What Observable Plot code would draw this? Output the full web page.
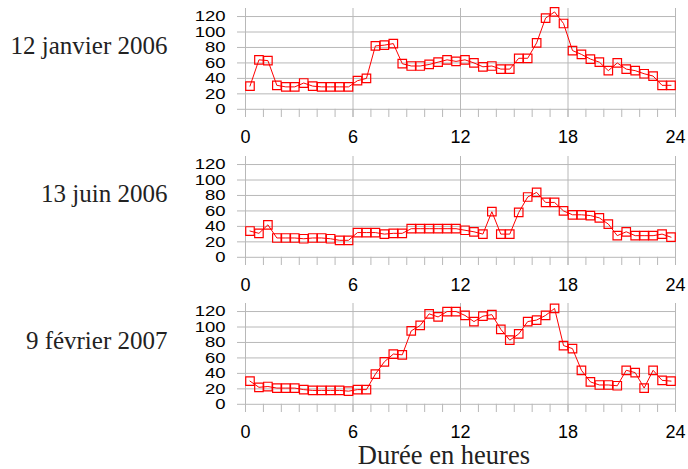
<!DOCTYPE html>
<html>
<head>
<meta charset="utf-8">
<script src="https://cdn.jsdelivr.net/npm/d3@7"></script>
<script src="https://cdn.jsdelivr.net/npm/@observablehq/plot@0.6"></script>
<style>
  html, body { margin: 0; padding: 0; background: #fff; }
  #chart svg { display: block; }
</style>
</head>
<body>
<div id="chart"></div>
<script>
// Half-hour sample times (hours)
const hours = [0.25,0.75,1.25,1.75,2.25,2.75,3.25,3.75,4.25,4.75,5.25,5.75,
  6.25,6.75,7.25,7.75,8.25,8.75,9.25,9.75,10.25,10.75,11.25,11.75,
  12.25,12.75,13.25,13.75,14.25,14.75,15.25,15.75,16.25,16.75,17.25,17.75,
  18.25,18.75,19.25,19.75,20.25,20.75,21.25,21.75,22.25,22.75,23.25,23.75];

const panelNames = ["12 janvier 2006", "13 juin 2006", "9 février 2007"];

const jan2006 = [30,64,63,31,29,29,34,30,29,29,29,29,37,40,82,83,85,59,56,56,58,61,64,62,
  64,60,55,56,52,52,66,66,86,118,126,111,76,71,65,61,50,60,52,50,46,43,31,31];
const jun2006 = [34,31,42,25,25,25,24,25,25,24,22,22,32,32,32,30,31,31,37,37,37,37,37,37,
  35,33,30,59,30,30,58,78,84,71,71,60,55,55,54,51,43,28,33,28,28,28,30,26];
const feb2007 = [30,22,23,21,21,21,19,18,18,18,18,17,19,19,39,55,65,64,95,102,117,113,120,120,
  115,107,114,116,97,83,91,107,109,115,124,76,72,44,29,25,25,24,44,41,21,44,31,30];

const xMajorTicks = [0, 6, 12, 18, 24];
const xMinorTicks = [0,1,2,3,4,5,6,7,8,9,10,11,12,13,14,15,16,17,18,19,20,21,22,23,24];
const yTicks = [0, 20, 40, 60, 80, 100, 120];
const xTitle = "Durée en heures";

const series = [jan2006, jun2006, feb2007];
const heights = [148, 147, 174];

const yMin = -10.6, yMax = 130.4;
const gridColor = "#b8b8b8";
const sans = "'Liberation Sans', Arial, sans-serif";
const serif = "'Liberation Serif', 'Times New Roman', serif";

function panel(i) {
  const data = hours.map((h, k) => ({h, v: series[i][k]}));
  const marks = [
    Plot.gridY(yTicks, {stroke: gridColor, strokeOpacity: 1}),
    Plot.gridX(xMajorTicks, {stroke: gridColor, strokeOpacity: 1}),
    Plot.ruleX(xMinorTicks, {x: d => d, y1: yMin, y2: 0, stroke: gridColor}),
    Plot.axisY(yTicks, {label: null, tickSize: 8, tickPadding: 12, stroke: gridColor, fill: "#000", fontSize: 18.5, fontFamily: sans}),
    Plot.axisX(xMajorTicks, {label: null, tickSize: 0, tickPadding: 13, fill: "#000", fontSize: 18, fontFamily: sans}),
    Plot.line(data, {x: "h", y: "v", stroke: "#ff0000", strokeWidth: 1}),
    Plot.dot(data, {x: "h", y: "v", symbol: "square", r: 4.8, stroke: "#ff0000", fill: "none", strokeWidth: 1.2}),
    Plot.text([panelNames[i]], {frameAnchor: "top-left", lineAnchor: "middle", dx: -78, dy: 37.5, textAnchor: "end",
      fontSize: 25, fontFamily: serif, fill: "#222"})
  ];
  if (i === 2) {
    marks.push(Plot.text([xTitle], {frameAnchor: "bottom", lineAnchor: "middle", dx: -16.6, dy: 43.5,
      fontSize: 26.5, fontFamily: serif, fill: "#222"}));
  }
  const svg = Plot.plot({
    width: 688,
    height: heights[i],
    marginLeft: 245,
    marginRight: 13,
    marginTop: 8,
    marginBottom: heights[i] - 8 - 109,
    style: {fontFamily: sans, background: "#fff", overflow: "visible"},
    x: {domain: [0, 24], label: null},
    y: {domain: [yMin, yMax], nice: false, label: null},
    marks
  });
  svg.querySelectorAll('g[aria-label="y-axis tick label"] text').forEach(el => {
    const t = el.getAttribute("transform");
    if (t && /translate/.test(t)) el.setAttribute("transform", t + " scale(1,0.8)");
  });
  return svg;
}

const root = document.getElementById("chart");
for (let i = 0; i < 3; i++) root.appendChild(panel(i));
</script>
</body>
</html>
